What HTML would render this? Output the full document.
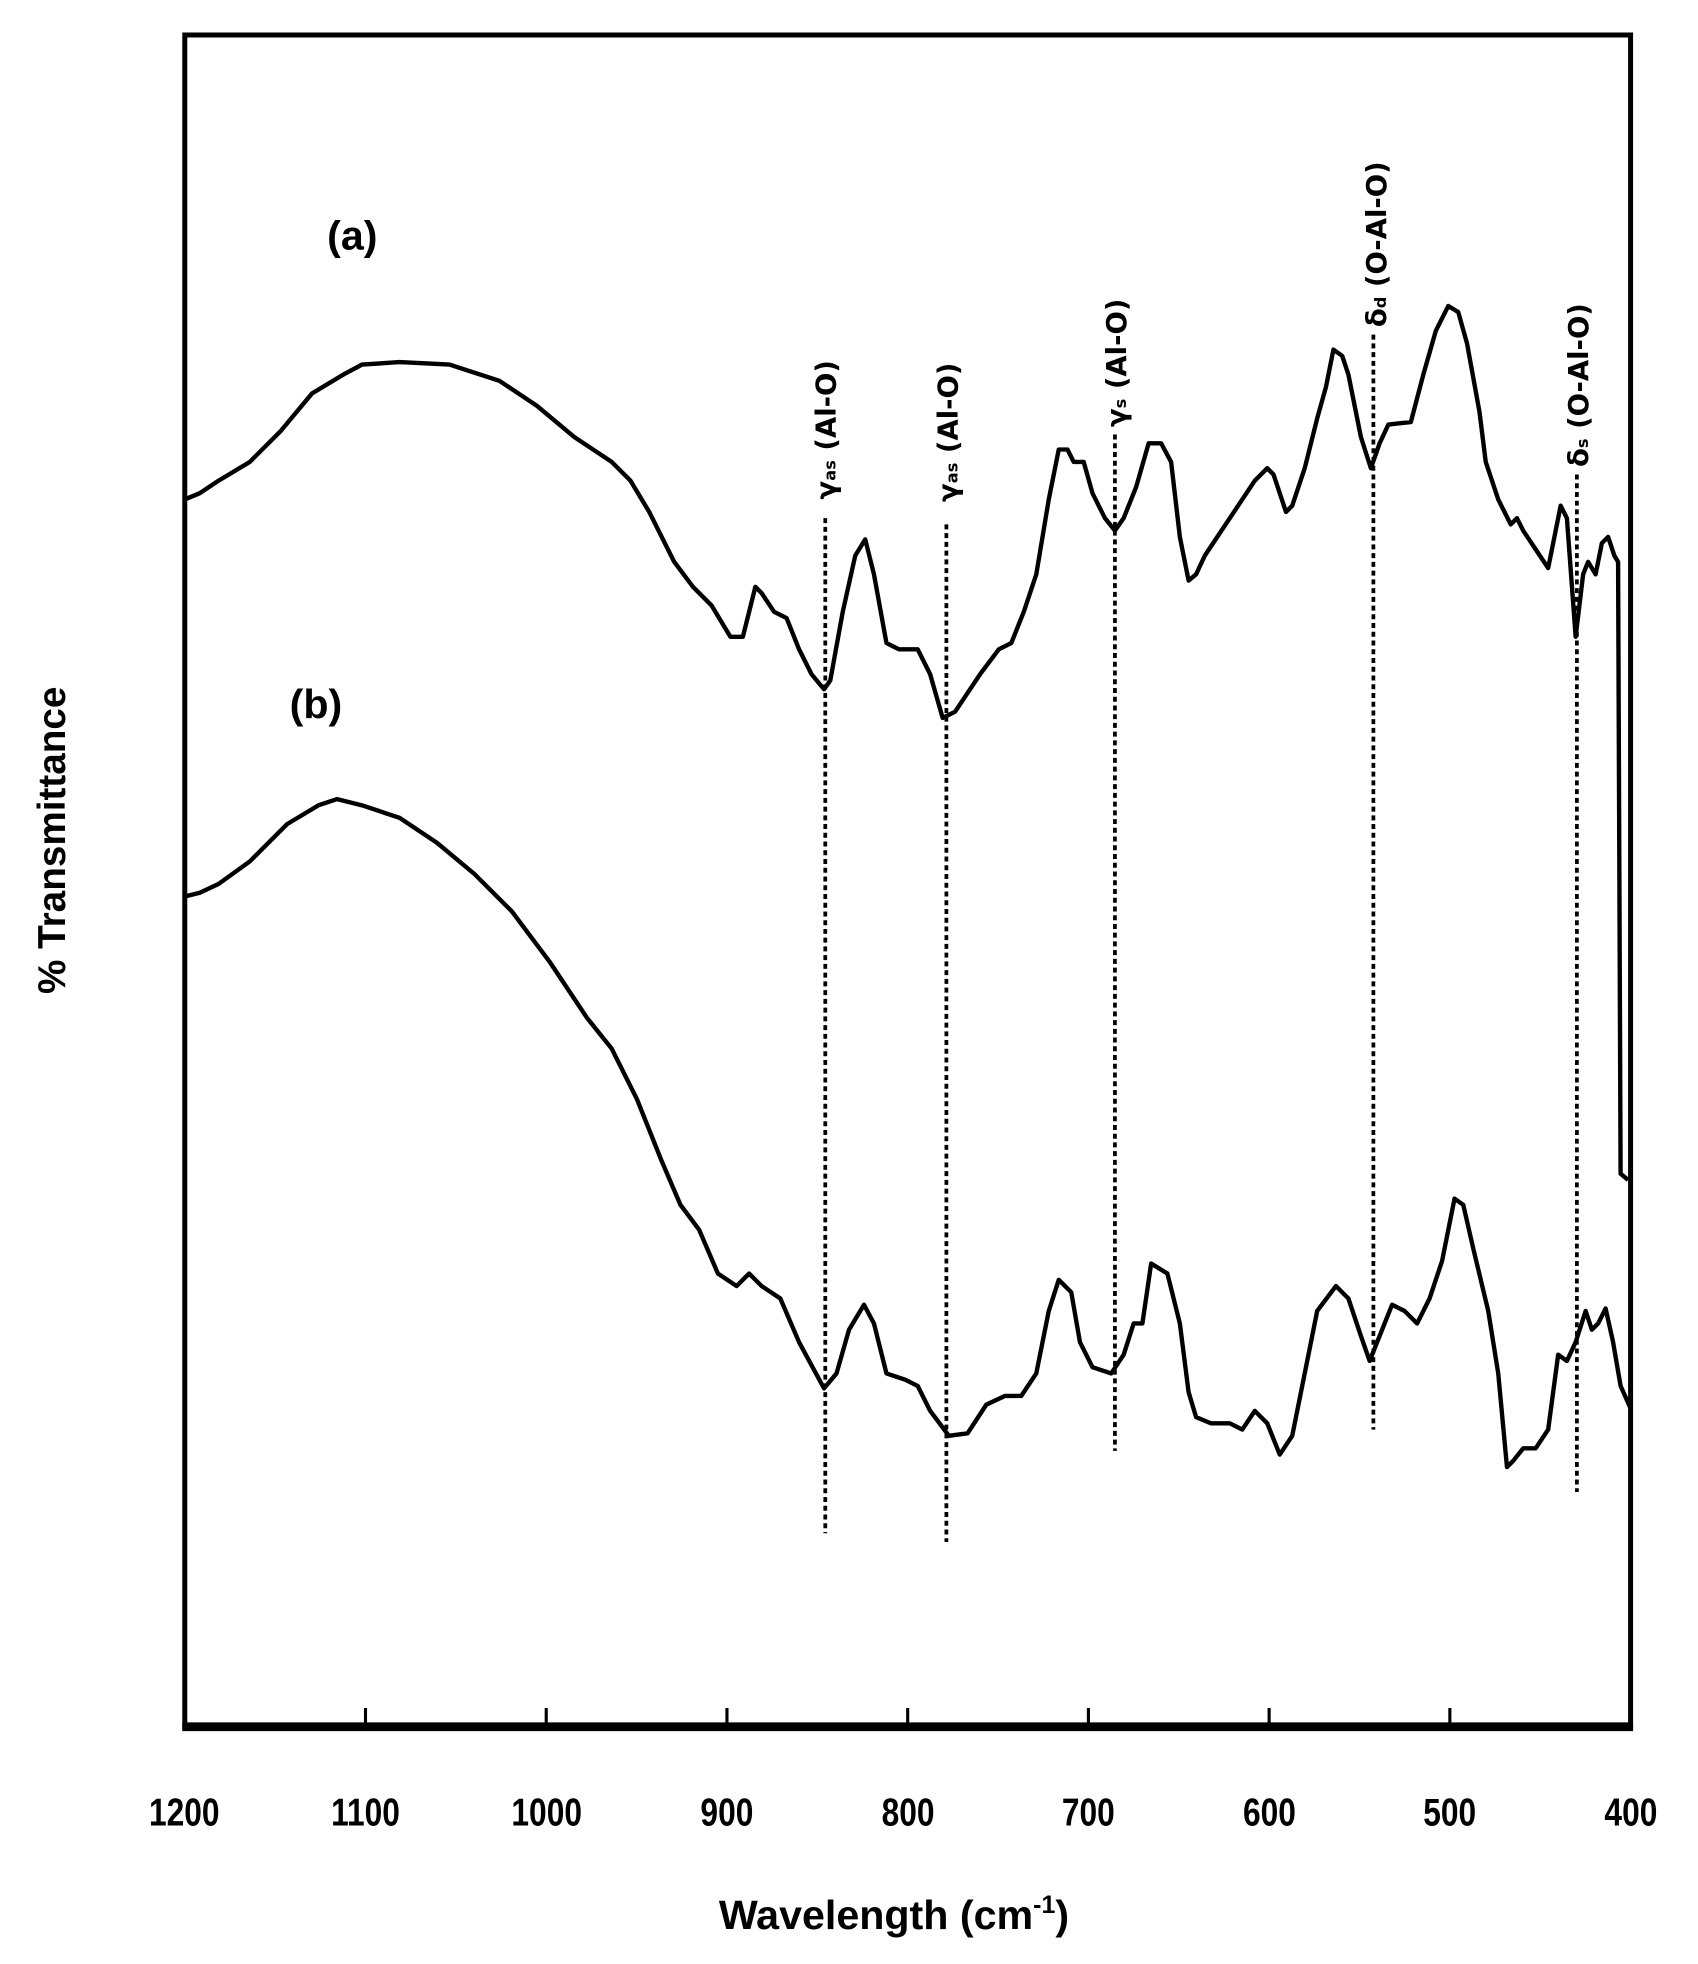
<!DOCTYPE html>
<html><head><meta charset="utf-8"><style>html,body{margin:0;padding:0;background:#fff}svg{display:block}</style></head>
<body>
<svg width="1698" height="1964" viewBox="0 0 1360 1573" xmlns="http://www.w3.org/2000/svg">
<rect x="0" y="0" width="1360" height="1573" fill="#fff"/>
<g fill="none" stroke="#000">
<rect x="148" y="28" width="1158" height="1355" stroke-width="4"/>
<line x1="146" y1="1383" x2="1308" y2="1383" stroke-width="7"/>
<g stroke-width="2.5">
<line x1="292.75" y1="1383" x2="292.75" y2="1368"/>
<line x1="437.5" y1="1383" x2="437.5" y2="1368"/>
<line x1="582.25" y1="1383" x2="582.25" y2="1368"/>
<line x1="727" y1="1383" x2="727" y2="1368"/>
<line x1="871.75" y1="1383" x2="871.75" y2="1368"/>
<line x1="1016.5" y1="1383" x2="1016.5" y2="1368"/>
<line x1="1161.25" y1="1383" x2="1161.25" y2="1368"/>
</g>
<g stroke-width="3" stroke-dasharray="4,3">
<line x1="661" y1="415" x2="661" y2="1228"/>
<line x1="758" y1="420" x2="758" y2="1235"/>
<line x1="893" y1="348" x2="893" y2="1162"/>
<line x1="1100" y1="268" x2="1100" y2="1145"/>
<line x1="1263" y1="380" x2="1263" y2="1195"/>
</g>
<polyline stroke-width="3.5" stroke-linejoin="round" points="148,400 160,395 175,385 200,370 225,345 250,315 275,300 290,292 320,290 360,292 400,305 430,325 460,350 490,370 505,385 520,410 540,450 555,470 570,485 585,510 595,510 600,490 605,470 610,475 620,490 630,495 640,520 650,540 660,552 665,545 675,490 685,445 693,432 700,460 710,515 720,520 735,520 745,540 755,575 765,570 775,555 785,540 800,520 810,515 820,490 830,460 840,400 848,360 855,360 860,370 868,370 875,395 885,415 893,425 900,415 910,390 920,355 930,355 938,370 945,430 952,465 958,460 965,445 975,430 985,415 995,400 1005,385 1015,375 1020,380 1030,410 1035,405 1045,375 1055,335 1062,310 1068,280 1075,285 1080,300 1090,350 1098,375 1105,355 1112,340 1130,338 1140,300 1150,265 1160,245 1168,250 1175,275 1185,330 1190,370 1200,400 1210,420 1215,415 1220,425 1230,440 1240,455 1245,430 1250,405 1255,415 1262,510 1268,460 1272,450 1278,460 1283,435 1288,430 1293,445 1296,450 1298,940 1304,945"/>
<polyline stroke-width="3.5" stroke-linejoin="round" points="148,718 160,715 175,708 200,690 230,660 255,645 270,640 290,645 320,655 350,675 380,700 410,730 440,770 470,815 490,840 510,880 530,930 545,965 560,985 575,1020 590,1030 600,1020 610,1030 625,1040 640,1075 660,1112 670,1100 680,1065 692,1045 700,1060 710,1100 725,1105 735,1110 745,1130 760,1150 775,1148 790,1125 805,1118 818,1118 830,1100 840,1050 848,1025 858,1035 865,1075 875,1095 890,1100 900,1085 908,1060 915,1060 922,1012 935,1020 945,1060 952,1115 958,1135 970,1140 985,1140 995,1145 1005,1130 1015,1140 1025,1165 1035,1150 1045,1100 1055,1050 1070,1030 1080,1040 1090,1070 1097,1090 1105,1070 1115,1045 1125,1050 1135,1060 1145,1040 1155,1010 1165,960 1172,965 1180,1000 1192,1050 1200,1100 1207,1175 1212,1170 1220,1160 1230,1160 1240,1145 1248,1085 1255,1090 1262,1075 1270,1050 1275,1065 1280,1060 1286,1048 1292,1075 1298,1110 1306,1128"/>
</g>
<g font-family="Liberation Sans, sans-serif" font-weight="bold" fill="#000">
<text x="262" y="200" font-size="33">(a)</text>
<text x="232" y="575" font-size="33">(b)</text>
<text transform="translate(52,673) rotate(-90)" text-anchor="middle" font-size="31">% Transmittance</text>
<g font-size="31" text-anchor="middle" transform="scale(0.82,1)">
<text x="180" y="1462">1200</text>
<text x="357" y="1462">1100</text>
<text x="534" y="1462">1000</text>
<text x="710" y="1462">900</text>
<text x="887" y="1462">800</text>
<text x="1063" y="1462">700</text>
<text x="1240" y="1462">600</text>
<text x="1416" y="1462">500</text>
<text x="1593" y="1462">400</text>
</g>
<text x="716" y="1545" font-size="33" text-anchor="middle">Wavelength (cm<tspan font-size="20" dy="-13">-1</tspan><tspan dy="13">)</tspan></text>
</g>
<g font-family="DejaVu Sans, sans-serif" font-size="22" font-weight="bold" fill="#000">
<text transform="translate(669,400) rotate(-90)">γ<tspan font-size="13">as</tspan> (Al-O)</text>
<text transform="translate(767,402) rotate(-90)">γ<tspan font-size="13">as</tspan> (Al-O)</text>
<text transform="translate(902,342) rotate(-90)">γ<tspan font-size="13">s</tspan> (Al-O)</text>
<text transform="translate(1110,262) rotate(-90)">δ<tspan font-size="13">d</tspan> (O-Al-O)</text>
<text transform="translate(1272,374) rotate(-90)">δ<tspan font-size="13">s</tspan> (O-Al-O)</text>
</g>
</svg>
</body></html>
